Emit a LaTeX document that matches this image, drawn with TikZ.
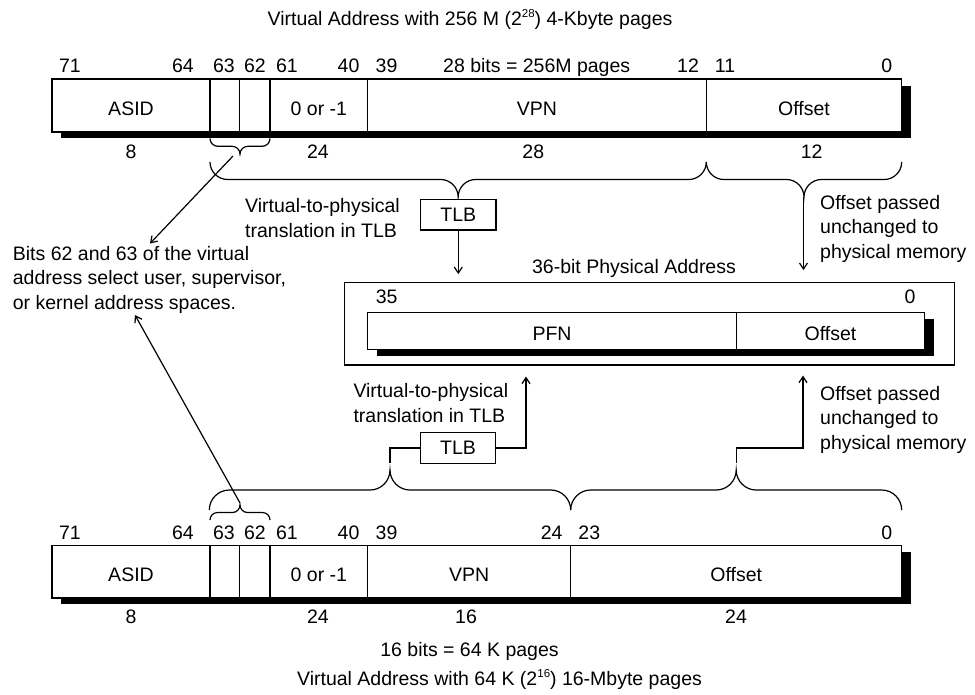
\documentclass[tikz,border=0pt]{standalone}
\usepackage{fontspec}
\setmainfont{Liberation Sans}
\usetikzlibrary{arrows.meta}
\newcommand{\mybrace}[4]{%
 \draw[brc] (#1,#3) .. controls (#1,{#3+0.55*#4}) and ({#1+0.45*abs(#4)},{#3+#4}) .. ({#1+abs(#4)},{#3+#4})
 -- ({(#1+#2)/2-abs(#4)},{#3+#4}) .. controls ({(#1+#2)/2-0.45*abs(#4)},{#3+#4}) and ({(#1+#2)/2},{#3+1.45*#4}) .. ({(#1+#2)/2},{#3+2*#4})
 .. controls ({(#1+#2)/2},{#3+1.45*#4}) and ({(#1+#2)/2+0.45*abs(#4)},{#3+#4}) .. ({(#1+#2)/2+abs(#4)},{#3+#4})
 -- ({#2-abs(#4)},{#3+#4}) .. controls ({#2-0.45*abs(#4)},{#3+#4}) and (#2,{#3+0.55*#4}) .. (#2,#3);}
\newcommand{\mysup}[1]{\raisebox{7.5pt}{\fontsize{11.5}{11.5}\selectfont #1}}
\begin{document}
\begin{tikzpicture}[x=1pt,y=-1pt,
  every node/.style={font=\fontsize{19.5}{24.5}\selectfont},
  fld/.style={draw, fill=white, line width=1.2pt, inner sep=0pt, text height=20pt, text depth=0pt},
  shad/.style={fill=black},
  lbl/.style={anchor=base, inner sep=0pt},
  txt/.style={anchor=base west, inner sep=0pt, align=left},
  conn/.style={line width=1.2pt},
  arr/.style={conn, -{Straight Barb[length=6pt,width=8pt]}},
  brc/.style={line width=1.2pt},
  tlb/.style={draw, line width=1.2pt, fill=white, minimum width=75.5pt, minimum height=30.7pt, inner sep=0pt}]
\useasboundingbox (0,0) rectangle (975,694);

% ---------- top virtual address ----------
\node[lbl] (ttitle) at (470,25) {Virtual Address with 256 M (2\mysup{28}) 4-Kbyte pages};
\fill[shad] (61,86) rectangle (910.7,138.3);
\node[fld, minimum width=158pt, minimum height=53pt] (asidA) at (131,105.5) {ASID};
\node[fld, minimum width=29.7pt, minimum height=53pt] (b63A) at (224.85,105.5) {};
\node[fld, minimum width=30.3pt, minimum height=53pt] (b62A) at (254.85,105.5) {};
\node[fld, minimum width=97.7pt, minimum height=53pt] (zeroA) at (318.85,105.5) {0 or -1};
\node[fld, minimum width=338.6pt, minimum height=53pt] (vpnA) at (537,105.5) {VPN};
\node[fld, minimum width=195.4pt, minimum height=53pt] (offA) at (804,105.5) {Offset};

\node[lbl] (t71) at (70,72.5) {71};
\node[lbl] (t64) at (183,72.5) {64};
\node[lbl] (t63) at (224,72.5) {63};
\node[lbl] (t62) at (255,72.5) {62};
\node[lbl] (t61) at (287,72.5) {61};
\node[lbl] (t40) at (348.5,72.5) {40};
\node[lbl] (t39) at (386.5,72.5) {39};
\node[lbl] (t28b) at (536.7,72.5) {28 bits = 256M pages};
\node[lbl] (t12) at (688,72.5) {12};
\node[lbl] (t11) at (725,72.5) {11};
\node[lbl] (t0) at (886.7,72.5) {0};

\node[lbl] (w8A) at (131,158) {8};
\node[lbl] (w24A) at (318,158) {24};
\node[lbl] (w28A) at (533.3,158) {28};
\node[lbl] (w12A) at (811.7,158) {12};

\mybrace{210}{270}{138.5}{7.8}
\mybrace{210}{706.3}{162}{17.5}
\mybrace{706.3}{901.7}{162}{17.5}

\coordinate (sbA) at (233,156);
\coordinate (tipB) at (803.5,197);

\node[tlb] (tlbA) at (458.3,214.7) {TLB};
\node[txt] (tvA) at (245,237.3) {Virtual-to-physical\\translation in TLB};
\node[txt] (offTxtA) at (820,258) {Offset passed\\unchanged to\\physical memory};
\node[txt] (bits) at (12.7,309) {Bits 62 and 63 of the virtual\\address select user, supervisor,\\or kernel address spaces.};
\coordinate (bitsIn1) at (150,243.5);
\coordinate (bitsIn2) at (135,315);

% ---------- physical address ----------
\node[lbl] (ptitle) at (634,273) {36-bit Physical Address};
\node[draw, line width=1.2pt, minimum width=610pt, minimum height=82.3pt, inner sep=0pt] (phys) at (649.3,323.85) {};
\fill[shad] (376.7,318.7) rectangle (934,355.7);
\node[fld, minimum width=369.4pt, minimum height=37pt] (pfn) at (552,330.8) {PFN};
\node[fld, minimum width=187.6pt, minimum height=37pt] (offP) at (830.5,330.8) {Offset};
\node[lbl] (p35) at (386.7,303) {35};
\node[lbl] (p0) at (910,303) {0};

\draw[arr, shorten >=8pt] (tlbA.south) -- (tlbA.south |- phys.north);
\draw[arr, shorten >=12pt] (tipB) -- (tipB |- phys.north);
\draw[arr] (sbA) -- (bitsIn1);

% ---------- bottom virtual address ----------
\node[txt] (tvB) at (353.3,422) {Virtual-to-physical\\translation in TLB};
\node[txt] (offTxtB) at (820,449) {Offset passed\\unchanged to\\physical memory};
\node[tlb] (tlbB) at (458,448) {TLB};
\coordinate (c1) at (390,463);
\coordinate (bUp) at (526,448);
\coordinate (d1) at (736.2,463);
\coordinate (dUp) at (803,448);
\draw[conn] (c1) |- (tlbB.west);
\draw[arr, shorten >=11pt] (tlbB.east) -- (bUp) -- (bUp |- phys.south);
\draw[arr, shorten >=10pt] (d1) |- (dUp) -- (dUp |- phys.south);

\mybrace{209.3}{570.7}{510}{-20}
\mybrace{570.7}{901.7}{510}{-20}
\mybrace{210}{270}{520}{-7.5}
\coordinate (sbB) at (240,503);
\draw[arr] (sbB) -- (bitsIn2);

\node[lbl] (b71) at (70,539.5) {71};
\node[lbl] (b64) at (183,539.5) {64};
\node[lbl] (b63) at (224,539.5) {63};
\node[lbl] (b62) at (255,539.5) {62};
\node[lbl] (b61) at (287,539.5) {61};
\node[lbl] (b40) at (348.5,539.5) {40};
\node[lbl] (b39) at (386.5,539.5) {39};
\node[lbl] (b24) at (551.7,539.5) {24};
\node[lbl] (b23) at (589.3,539.5) {23};
\node[lbl] (b0) at (886.7,539.5) {0};

\fill[shad] (61,552) rectangle (910.7,604.3);
\node[fld, minimum width=158pt, minimum height=52.3pt] (asidB) at (131,571.85) {ASID};
\node[fld, minimum width=29.7pt, minimum height=52.3pt] (b63B) at (224.85,571.85) {};
\node[fld, minimum width=30.3pt, minimum height=52.3pt] (b62B) at (254.85,571.85) {};
\node[fld, minimum width=97.7pt, minimum height=52.3pt] (zeroB) at (318.85,571.85) {0 or -1};
\node[fld, minimum width=203pt, minimum height=52.3pt] (vpnB) at (469.2,571.85) {VPN};
\node[fld, minimum width=331pt, minimum height=52.3pt] (offB) at (736.2,571.85) {Offset};

\node[lbl] (w8B) at (131,623) {8};
\node[lbl] (w24B) at (318,623) {24};
\node[lbl] (w16B) at (466,623) {16};
\node[lbl] (w24C) at (736,623) {24};
\node[lbl] (bnote) at (469.5,656) {16 bits = 64 K pages};
\node[lbl] (btitle) at (499.5,685) {Virtual Address with 64 K (2\mysup{16}) 16-Mbyte pages};
\end{tikzpicture}
\end{document}
